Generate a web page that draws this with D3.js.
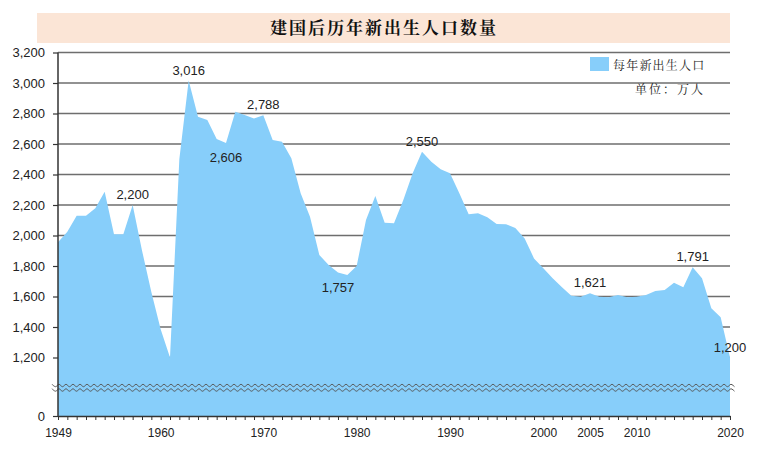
<!DOCTYPE html>
<html>
<head>
<meta charset="utf-8">
<script src="https://cdn.jsdelivr.net/npm/d3@7"></script>
<style>
  html, body { margin: 0; padding: 0; background: #fff; }
  svg { display: block; }
</style>
</head>
<body>
<svg id="chart" width="761" height="457"></svg>
<script>
// ---- Data ----
const categories = [
  "1949","1950","1951","1952","1953","1954","1955","1956","1957","1958",
  "1959","1960","1961","1962","1963","1964","1965","1966","1967","1968",
  "1969","1969b","1970","1971","1972","1973","1974","1975","1976","1977",
  "1978","1979","1980","1981","1982","1983","1984","1985","1986","1987",
  "1988","1989","1990","1991","1992","1993","1994","1995","1996","1997",
  "1998","1999","2000","2001","2002","2003","2004","2005","2006","2007",
  "2008","2009","2010","2011","2012","2013","2014","2015","2016","2017",
  "2018","2019","2020"
];
const births = [
  1955, 2025, 2130, 2130, 2178, 2287, 2008, 2008, 2200, 1902,
  1630, 1385, 1200, 2500, 3016, 2779, 2757, 2633, 2606, 2812,
  2790, 2768, 2788, 2626, 2615, 2506, 2277, 2123, 1872, 1807,
  1757, 1741, 1800, 2102, 2259, 2084, 2080, 2233, 2408, 2550,
  2484, 2434, 2408, 2277, 2139, 2146, 2119, 2075, 2073, 2050,
  1981, 1850, 1785, 1719, 1660, 1605, 1599, 1621, 1599, 1595,
  1610, 1595, 1599, 1610, 1636, 1643, 1690, 1660, 1791, 1719,
  1523, 1464, 1200
];
const tickYears = ["1949","1960","1970","1980","1990","2000","2005","2010","2020"];
const yTickValues = [0, 1200, 1400, 1600, 1800, 2000, 2200, 2400, 2600, 2800, 3000, 3200];
const gridValues = [1200, 1400, 1600, 1800, 2000, 2200, 2400, 2600, 2800, 3000, 3200];
const labelYears = ["1957","1963","1967","1970","1978","1987","2005","2016","2020"];
const labelSides = ["above","above","below","above","below","above","above","above","above"];

const titleText = "建国后历年新出生人口数量";
const legendText = "每年新出生人口";
const unitText = "单位：万人";

// ---- Layout ----
const svg = d3.select("#chart");
const mLeft = 58, mRight = 730, mTop = 52.5, mBottom = 416;
const breakValue = 1000;

const x = d3.scalePoint().domain(d3.range(categories.length)).range([mLeft, mRight]);
// broken axis: 0..1000 compressed, 1000..3200 linear
const y = d3.scaleLinear().domain([0, breakValue, 3200]).range([mBottom, 388, mTop]);

const fmt = d3.format(",");
const BLUE = "#87cefa";
const sansFont = "'Liberation Sans', Arial, sans-serif";
const cjkFont = "'Noto Sans CJK SC', sans-serif";

// Title box
svg.append("rect")
  .attr("x", 37).attr("y", 13).attr("width", mRight - 37).attr("height", 30)
  .attr("fill", "#fbe5d6");
svg.append("text")
  .attr("x", 384).attr("y", 34)
  .attr("text-anchor", "middle")
  .attr("font-family", "'Noto Serif CJK SC', " + cjkFont)
  .attr("font-size", 17).attr("font-weight", "bold")
  .attr("letter-spacing", 2)
  .attr("fill", "#111")
  .text(titleText);

// Gridlines (behind area)
svg.append("g").selectAll("line").data(gridValues).join("line")
  .attr("x1", mLeft).attr("x2", mRight)
  .attr("y1", d => y(d)).attr("y2", d => y(d))
  .attr("stroke", "#6e6e6e").attr("stroke-width", 1.6);

// Area
const area = d3.area()
  .x((d, i) => x(i))
  .y0(y(0))
  .y1(d => y(d));
svg.append("path").datum(births)
  .attr("d", area)
  .attr("fill", BLUE);

// Break marks (two wavy lines)
function wavy(yy) {
  const pts = [];
  for (let px = 52; px <= 736; px += 3.5) {
    const k = Math.round((px - 52) / 3.5);
    pts.push([px, yy + (k % 2 === 0 ? -1.2 : 1.2)]);
  }
  return d3.line().curve(d3.curveCatmullRom)(pts);
}
[385.5, 390].forEach(yy => {
  svg.append("path").attr("d", wavy(yy))
    .attr("fill", "none").attr("stroke", "#555").attr("stroke-width", 1);
});

// Y axis
const yAxis = d3.axisLeft(y)
  .tickValues(yTickValues)
  .tickFormat(fmt)
  .tickSize(5).tickSizeOuter(0);
const gy = svg.append("g").attr("transform", `translate(${mLeft},0)`).call(yAxis);
gy.select(".domain").attr("stroke", "#333").attr("stroke-width", 1.5)
  .attr("d", `M0,${mTop}V${mBottom}`);
gy.selectAll(".tick line").attr("stroke", "#333").attr("stroke-width", 1.2);
gy.selectAll(".tick text")
  .attr("font-family", sansFont).attr("font-size", 13).attr("fill", "#222")
  .attr("x", -13);

// X axis
const xAxis = d3.axisBottom(x)
  .tickValues(d3.range(categories.length))
  .tickFormat(i => tickYears.includes(categories[i]) ? categories[i] : "")
  .tickSize(4).tickSizeOuter(0);
const gx = svg.append("g").attr("transform", `translate(0,${mBottom})`).call(xAxis);
gx.select(".domain").attr("stroke", "#333").attr("stroke-width", 1.5);
gx.selectAll(".tick line").attr("stroke", "#333").attr("stroke-width", 1);
gx.selectAll(".tick text")
  .attr("font-family", sansFont).attr("font-size", 12).attr("fill", "#222")
  .attr("y", 12);

// Data labels
labelYears.forEach((yr, k) => {
  const i = categories.indexOf(yr);
  const v = births[i];
  const above = labelSides[k] === "above";
  svg.append("text")
    .attr("x", x(i))
    .attr("y", above ? y(v) - 6 : y(v) + 19)
    .attr("text-anchor", "middle")
    .attr("font-family", sansFont).attr("font-size", 13)
    .attr("fill", "#222")
    .text(fmt(v));
});

// Legend
svg.append("rect").attr("x", 590).attr("y", 57).attr("width", 19).attr("height", 14).attr("fill", BLUE);
svg.append("text").attr("x", 613).attr("y", 70)
  .attr("font-family", "'Noto Serif CJK SC', " + cjkFont).attr("font-size", 12)
  .attr("letter-spacing", 1.2).attr("fill", "#222").text(legendText);
svg.append("text").attr("x", 705).attr("y", 94).attr("text-anchor", "end")
  .attr("font-family", "'Noto Serif CJK SC', " + cjkFont).attr("font-size", 12)
  .attr("letter-spacing", 2).attr("fill", "#222").text(unitText);
</script>
</body>
</html>
